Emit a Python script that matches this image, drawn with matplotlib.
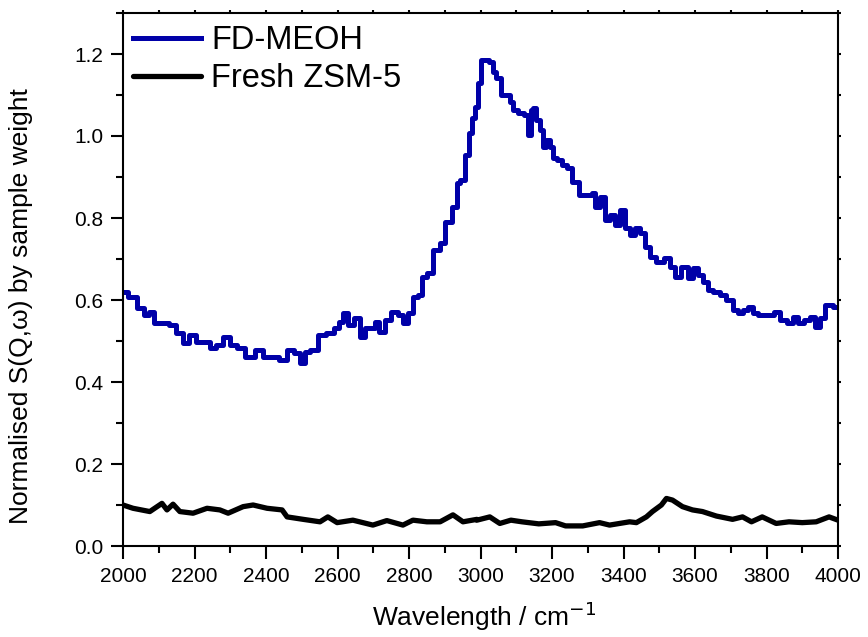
import matplotlib
matplotlib.use("Agg")
import matplotlib.pyplot as plt
from matplotlib.ticker import MultipleLocator

plt.rcParams['font.family'] = ['Liberation Sans', 'DejaVu Sans']

# FD-MEOH (blue) wavenumber / value
fd_x = [2000, 2028, 2048, 2067, 2078, 2095, 2117, 2140, 2159, 2179, 2193, 2215, 2235,
        2249, 2271, 2291, 2308, 2327, 2355, 2383, 2403, 2422, 2448, 2467, 2487, 2503,
        2515, 2531, 2559, 2579, 2599, 2607, 2621, 2635, 2655, 2671, 2685, 2699, 2710,
        2724, 2741, 2761, 2775, 2794, 2803, 2817, 2831, 2839, 2859, 2878, 2895, 2909,
        2929, 2937, 2951, 2962, 2971, 2979, 2990, 2996, 3004, 3018, 3032, 3038, 3049,
        3063, 3077, 3088, 3096, 3116, 3130, 3136, 3144, 3152, 3161, 3172, 3177, 3189,
        3200, 3208, 3222, 3236, 3250, 3261, 3289, 3306, 3315, 3326, 3340, 3354, 3368,
        3382, 3396, 3410, 3424, 3438, 3454, 3466, 3482, 3502, 3522, 3538, 3552, 3572,
        3591, 3600, 3614, 3628, 3642, 3661, 3678, 3698, 3712, 3726, 3740, 3754, 3768,
        3782, 3810, 3832, 3846, 3866, 3885, 3894, 3913, 3930, 3941, 3958, 3972, 4000]
fd_y = [0.620, 0.608, 0.580, 0.563, 0.571, 0.544, 0.544, 0.539, 0.519, 0.495, 0.515,
        0.498, 0.498, 0.483, 0.490, 0.510, 0.490, 0.483, 0.462, 0.478, 0.462, 0.462,
        0.454, 0.478, 0.470, 0.446, 0.474, 0.478, 0.515, 0.519, 0.531, 0.547, 0.568,
        0.539, 0.556, 0.510, 0.531, 0.531, 0.547, 0.523, 0.551, 0.571, 0.563, 0.544,
        0.568, 0.608, 0.612, 0.657, 0.666, 0.722, 0.739, 0.791, 0.828, 0.885, 0.893,
        0.954, 1.007, 1.044, 1.071, 1.129, 1.185, 1.185, 1.181, 1.157, 1.141, 1.100,
        1.100, 1.084, 1.063, 1.056, 1.051, 1.002, 1.063, 1.068, 1.039, 1.015, 0.974,
        0.990, 0.974, 0.946, 0.941, 0.929, 0.922, 0.889, 0.856, 0.856, 0.861, 0.828,
        0.852, 0.795, 0.807, 0.783, 0.820, 0.776, 0.759, 0.776, 0.763, 0.730, 0.706,
        0.693, 0.702, 0.681, 0.657, 0.681, 0.653, 0.678, 0.661, 0.645, 0.624, 0.620,
        0.612, 0.600, 0.576, 0.568, 0.576, 0.584, 0.568, 0.563, 0.563, 0.571, 0.551,
        0.544, 0.559, 0.544, 0.551, 0.559, 0.535, 0.556, 0.588, 0.584]

# Fresh ZSM-5 (black)
fr_x = [2000, 2028, 2075, 2109, 2123, 2140, 2159, 2196, 2235, 2271, 2294, 2336, 2364,
        2403, 2445, 2459, 2504, 2551, 2573, 2599, 2643, 2699, 2738, 2783, 2811, 2850,
        2887, 2923, 2951, 2990, 2990, 3026, 3054, 3085, 3116, 3163, 3210, 3238, 3286,
        3333, 3361, 3417, 3436, 3464, 3481, 3506, 3520, 3537, 3565, 3593, 3621, 3660,
        3705, 3733, 3758, 3788, 3827, 3863, 3900, 3939, 3975, 4000]
fr_y = [0.100, 0.092, 0.084, 0.104, 0.088, 0.102, 0.084, 0.080, 0.092, 0.088, 0.080,
        0.096, 0.100, 0.092, 0.088, 0.071, 0.065, 0.059, 0.071, 0.057, 0.063, 0.051,
        0.062, 0.051, 0.063, 0.059, 0.059, 0.076, 0.059, 0.065, 0.063, 0.071, 0.055,
        0.063, 0.059, 0.054, 0.057, 0.049, 0.049, 0.057, 0.051, 0.059, 0.057, 0.071,
        0.084, 0.100, 0.116, 0.112, 0.096, 0.088, 0.084, 0.073, 0.065, 0.071, 0.059,
        0.071, 0.055, 0.059, 0.057, 0.059, 0.071, 0.063]

fig = plt.figure(figsize=(8.68, 6.37), dpi=100)
ax = fig.add_axes([123/868, 1 - 546/637, (838 - 123)/868, (546 - 13)/637])

ax.plot(fd_x, fd_y, color='#0000A8', lw=3.6, drawstyle='steps-mid',
        solid_joinstyle='round', label='FD-MEOH')
ax.plot(fr_x, fr_y, color='black', lw=3.8, solid_joinstyle='round',
        solid_capstyle='round', label='Fresh ZSM-5')

ax.set_xlim(2000, 4000)
ax.set_ylim(0, 1.3)
ax.xaxis.set_major_locator(MultipleLocator(200))
ax.xaxis.set_minor_locator(MultipleLocator(100))
ax.yaxis.set_major_locator(MultipleLocator(0.2))
ax.yaxis.set_minor_locator(MultipleLocator(0.1))
ax.yaxis.set_major_formatter(matplotlib.ticker.FormatStrFormatter('%.1f'))

for s in ax.spines.values():
    s.set_linewidth(1.5)
ax.tick_params(which='major', direction='out', length=9, width=1.5, labelsize=15,
               top=True, right=True)
ax.tick_params(which='minor', direction='out', length=5, width=1.5, top=True, right=True)
ax.tick_params(which='major', axis='x', pad=6)
ax.tick_params(which='major', axis='y', pad=5)
for t in ax.xaxis.get_major_ticks() + ax.xaxis.get_minor_ticks():
    t.tick2line.set_markersize(2)
for t in ax.yaxis.get_major_ticks() + ax.yaxis.get_minor_ticks():
    t.tick2line.set_markersize(2)

ax.set_xlabel('Wavelength / cm$^{-1}$', fontsize=19)
ax.set_ylabel('Normalised S(Q,ω) by sample weight', fontsize=19)
ax.xaxis.label.set_verticalalignment('baseline')
ax.xaxis.set_label_coords((484 - 123) / 715, (546 - 626) / 533)
ax.yaxis.set_label_coords((33 - 123) / 715, (546 - 306) / 533)

ax.legend(loc='upper left', bbox_to_anchor=(0.0, 0.995), frameon=False, fontsize=23.5,
          handlelength=2.1, handletextpad=0.3, labelspacing=0.2,
          borderaxespad=0.1, borderpad=0.2)

fig.savefig('out.png', dpi=100)
